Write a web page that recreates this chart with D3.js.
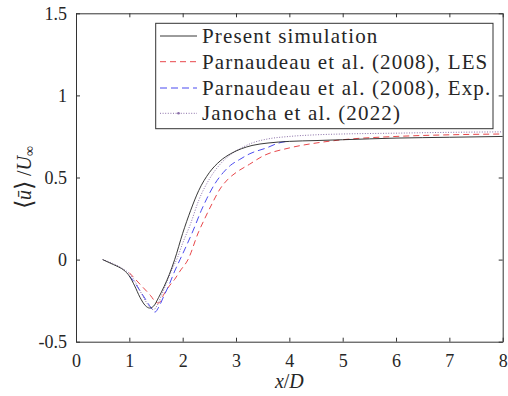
<!DOCTYPE html>
<html><head><meta charset="utf-8">
<script src="https://cdn.jsdelivr.net/npm/d3@7"></script>
<style>body{margin:0;background:#fff}svg{display:block}</style>
</head><body><div id="chart"></div>
<script>
const xTicks = [0,1,2,3,4,5,6,7,8];
const yTicks = [-0.5,0,0.5,1,1.5];
const yTickLabels = ["-0.5","0","0.5","1","1.5"];
const seriesNames = ["Present simulation","Parnaudeau et al. (2008), LES","Parnaudeau et al. (2008), Exp.","Janocha et al. (2022)"];

const presentX = [0.5,0.6,0.7,0.8,0.9,1.0,1.1,1.2,1.3,1.38,1.45,1.55,1.65,1.75,1.85,2.0,2.15,2.3,2.5,2.7,2.9,3.1,3.3,3.6,4.0,4.5,5,6,7,8];
const presentY = [0,-0.015,-0.03,-0.045,-0.065,-0.1,-0.16,-0.23,-0.28,-0.295,-0.285,-0.23,-0.165,-0.09,0,0.16,0.3,0.42,0.53,0.6,0.645,0.675,0.695,0.71,0.72,0.725,0.73,0.74,0.745,0.75];

const lesX = [1.0,1.2,1.4,1.5,1.55,1.65,1.75,1.85,1.95,2.1,2.3,2.4,2.55,2.7,2.85,3.0,3.25,3.5,4,4.5,5,6,7,8];
const lesY = [-0.08,-0.15,-0.22,-0.26,-0.265,-0.21,-0.16,-0.12,-0.07,0,0.17,0.24,0.34,0.43,0.49,0.53,0.58,0.63,0.68,0.71,0.73,0.75,0.76,0.765];

const expX = [1.0,1.1,1.2,1.3,1.4,1.48,1.55,1.65,1.75,1.85,1.95,2.05,2.2,2.35,2.45,2.6,2.76,2.9,3.07,3.26,3.57,3.8,3.95];
const expY = [-0.1,-0.14,-0.19,-0.24,-0.29,-0.32,-0.29,-0.22,-0.15,-0.07,0,0.07,0.18,0.3,0.37,0.46,0.53,0.575,0.61,0.645,0.68,0.71,0.72];

const janX = [0.5,0.7,0.9,1.0,1.1,1.2,1.3,1.4,1.45,1.52,1.6,1.7,1.8,1.9,2.0,2.15,2.3,2.5,2.7,2.9,3.1,3.3,3.6,4.0,4.5,5,6,7,8];
const janY = [0,-0.025,-0.06,-0.085,-0.13,-0.19,-0.25,-0.295,-0.305,-0.28,-0.22,-0.14,-0.06,0.01,0.1,0.22,0.36,0.49,0.58,0.64,0.68,0.71,0.735,0.75,0.76,0.765,0.77,0.775,0.778];

const FONT = '"Liberation Serif", serif';
const W = 508, H = 396;
const L = 76, R = 502.7, T = 13.3, B = 341.7;
const svg = d3.select("#chart").append("svg").attr("width", W).attr("height", H);
const x = d3.scaleLinear().domain([0,8]).range([L,R]);
const y = d3.scaleLinear().domain([-0.5,1.5]).range([B,T]);

const styles = [
  {color:"#222", dash:null, w:0.9},
  {color:"#e8474a", dash:"6,4", w:1},
  {color:"#4b4bf0", dash:"7,4", w:1},
  {color:"#8a6fa8", dash:"1,1.6", w:1}
];
const data = [[presentX,presentY],[lesX,lesY],[expX,expY],[janX,janY]];

const line = d3.line().x(d=>x(d[0])).y(d=>y(d[1])).curve(d3.curveMonotoneX);
const g = svg.append("g");
[1,2,3,0].forEach(i=>{
  const pts = data[i][0].map((v,k)=>[v,data[i][1][k]]);
  g.append("path").attr("d", line(pts)).attr("fill","none")
   .attr("stroke", styles[i].color).attr("stroke-width", styles[i].w)
   .attr("stroke-dasharray", styles[i].dash);
});

const axCol = "#333";
const xb = svg.append("g").attr("transform",`translate(0,${B})`)
  .call(d3.axisBottom(x).tickValues(xTicks).tickSizeInner(-4).tickSizeOuter(0).tickPadding(10));
const xt = svg.append("g").attr("transform",`translate(0,${T})`)
  .call(d3.axisTop(x).tickValues(xTicks).tickSizeInner(-4).tickSizeOuter(0).tickFormat(""));
const yl = svg.append("g").attr("transform",`translate(${L},0)`)
  .call(d3.axisLeft(y).tickValues(yTicks).tickSizeInner(-4).tickSizeOuter(0).tickPadding(9)
  .tickFormat((d,i)=>yTickLabels[i]));
const yr = svg.append("g").attr("transform",`translate(${R},0)`)
  .call(d3.axisRight(y).tickValues(yTicks).tickSizeInner(-4).tickSizeOuter(0).tickFormat(""));
[xb,xt,yl,yr].forEach(a=>{
  a.attr("font-family", null).attr("font-size", null);
  a.selectAll("path").attr("stroke",axCol).attr("stroke-width",1);
  a.selectAll("line").attr("stroke",axCol).attr("stroke-width",1);
  a.selectAll("text").style("font-family",FONT).style("font-size","18px").attr("fill","#262626");
});
xb.selectAll("text").attr("dy","0.85em");

svg.append("text").attr("x", x(4)).attr("y", 388).attr("text-anchor","middle")
  .style("font-family",FONT).style("font-size","20px").attr("fill","#262626")
  .html('<tspan font-style="italic">x</tspan>/<tspan font-style="italic">D</tspan>');
svg.append("text").attr("transform",`translate(31,${(T+B)/2}) rotate(-90)`).attr("text-anchor","middle")
  .style("font-family",FONT).style("font-size","20px").attr("fill","#262626")
  .html('<tspan font-size="24" dy="1">\u27E8</tspan><tspan font-style="italic" dy="-1">u\u0304</tspan><tspan font-size="24" dy="1">\u27E9</tspan><tspan dy="-1"> /</tspan><tspan font-style="italic">U</tspan><tspan font-size="14" dy="3">\u221E</tspan>');

const lg = svg.append("g");
lg.append("rect").attr("x",155.7).attr("y",23.3).attr("width",493-155.7).attr("height",128.7-23.3)
  .attr("fill","#fff").attr("stroke",axCol).attr("stroke-width",1);
const rowY = [36,61.7,88,113.3];
seriesNames.forEach((n,i)=>{
  lg.append("line").attr("x1",160).attr("x2",197).attr("y1",rowY[i]).attr("y2",rowY[i])
    .attr("stroke",styles[i].color).attr("stroke-width",styles[i].w).attr("stroke-dasharray",styles[i].dash);
  if(i===3) lg.append("circle").attr("cx",178.5).attr("cy",rowY[i]).attr("r",1.3).attr("fill",styles[i].color);
  lg.append("text").attr("x",202).attr("y",rowY[i]).attr("dy","0.33em")
    .style("font-family",FONT).style("font-size","21px").attr("fill","#262626")
    .style("letter-spacing","1.15px").text(n);
});
</script></body></html>
